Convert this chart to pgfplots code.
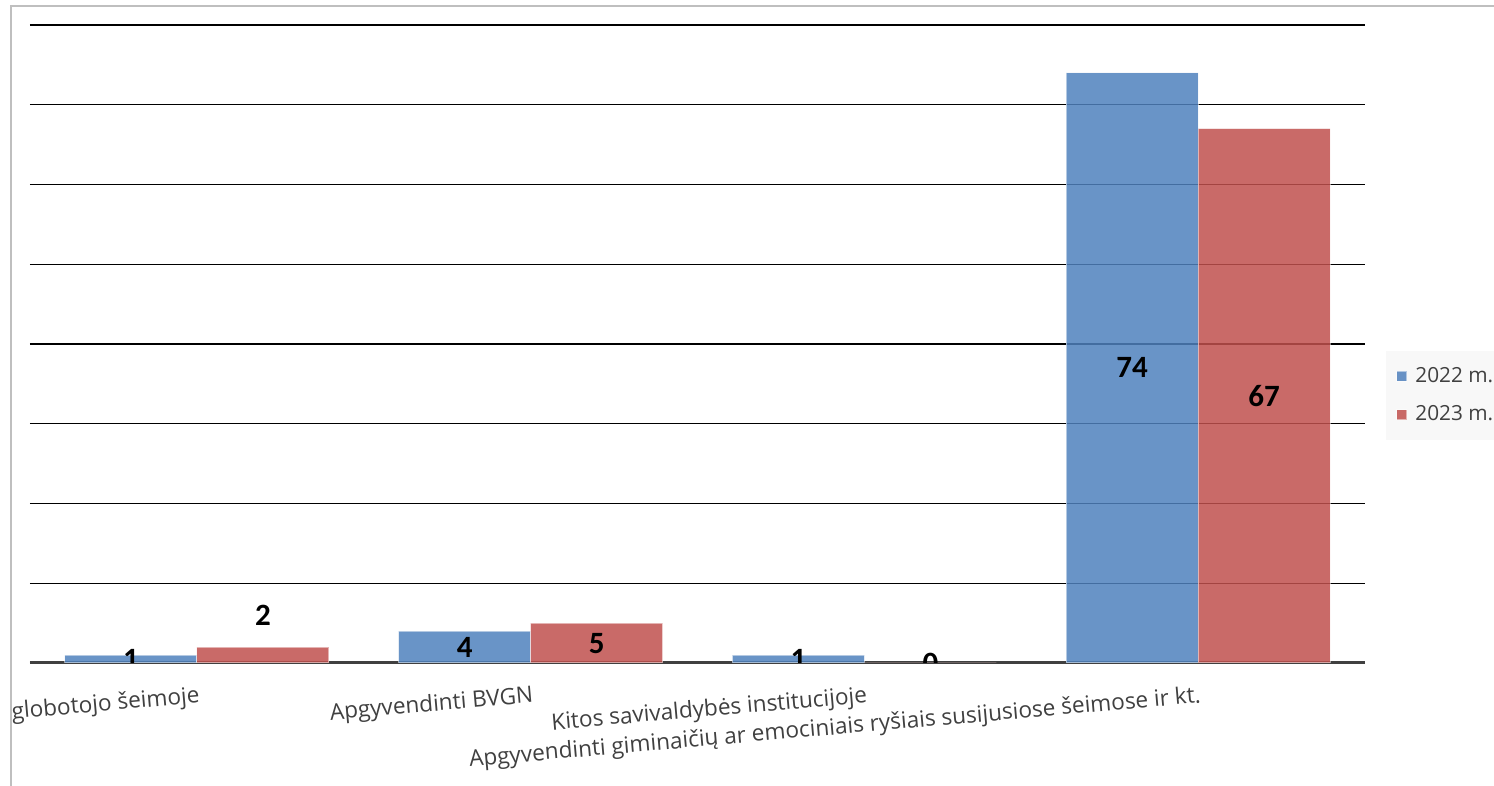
\documentclass[border=0pt]{standalone}
\usepackage{pgfplots}
\pgfplotsset{compat=1.18}
\usepackage{fontspec}
\setmainfont{Open Sans}
\newfontfamily\valfont{Carlito}
\definecolor{cblue}{HTML}{4F81BD}
\definecolor{cred}{HTML}{C0504D}
\definecolor{txt}{HTML}{404040}
\definecolor{framec}{HTML}{BFBFBF}
\definecolor{legbg}{HTML}{F8F8F8}
\begin{document}
\begin{tikzpicture}
\useasboundingbox (0,0) rectangle (747pt,393pt);
\begin{scope}
\clip (6pt,0) rectangle (747pt,389pt);
\begin{axis}[
  at={(15pt,61.5pt)}, anchor=south west, scale only axis,
  width=667.5pt, height=319pt,
  xmin=-0.5, xmax=3.5, ymin=0, ymax=80,
  enlarge x limits=false,
  ybar=0pt, bar width=66pt,
  ytick={0,10,...,80}, yticklabels={},
  ymajorgrids, grid style={black, line width=0.7pt},
  major tick length=0pt,
  axis x line*=bottom, axis y line*=left,
  x axis line style={draw=txt, line width=1.5pt, -},
  y axis line style={draw=none},
  xtick={0,1,2,3},
  xticklabels={Apgyvendinti globotojo šeimoje, Apgyvendinti BVGN, Kitos savivaldybės institucijoje, Apgyvendinti giminaičių ar emociniais ryšiais susijusiose šeimose ir kt.},
  xticklabel style={rotate=5, anchor=north east, font=\fontsize{11.3}{13}\selectfont, text=txt, inner sep=0pt, yshift=-11pt},
  legend style={at={(1.0157,0.489)}, anchor=north west, fill=legbg, draw=none,
    font=\fontsize{10.4}{12.5}\selectfont, text=txt, inner xsep=5pt, inner ysep=6pt, row sep=6pt,
    nodes={inner xsep=4pt}},
  legend cell align=left,
  legend image code/.code={\fill[#1] (0pt,-2.5pt) rectangle (5pt,2.5pt);},
]
\addplot[fill=cblue, fill opacity=0.85, draw=white, draw opacity=0.5, line width=0.5pt] coordinates {(0,1) (1,4) (2,1) (3,74)};
\addplot[fill=cred, fill opacity=0.85, draw=white, draw opacity=0.5, line width=0.5pt] coordinates {(0,2) (1,5) (2,0) (3,67)};
\legend{2022 m., 2023 m.}
\end{axis}
\end{scope}
\begin{scope}
\clip (15pt,61.5pt) rectangle (682.5pt,380.5pt);
\begin{axis}[
  at={(15pt,61.5pt)}, anchor=south west, scale only axis,
  width=667.5pt, height=319pt,
  xmin=-0.5, xmax=3.5, ymin=0, ymax=80, hide axis,
  nodes near coords style={font=\valfont\bfseries\fontsize{15.5}{16}\selectfont, anchor=center, text=black},
]
\addplot[only marks, mark size=0pt, draw=none, nodes near coords, point meta=explicit symbolic,
  every node near coord/.append style={xshift=-33pt}]
  coordinates {(0,0.5) [1] (1,2) [4] (2,0.5) [1] (3,37) [74]};
\addplot[only marks, mark size=0pt, draw=none, nodes near coords, point meta=explicit symbolic,
  every node near coord/.append style={xshift=33pt}]
  coordinates {(0,6) [2] (1,2.5) [5] (2,0) [0] (3,33.5) [67]};
\end{axis}
\end{scope}
\draw[framec, line width=1pt] (5.5pt,0) -- (5.5pt,390pt) -- (747pt,390pt);
\end{tikzpicture}
\end{document}
